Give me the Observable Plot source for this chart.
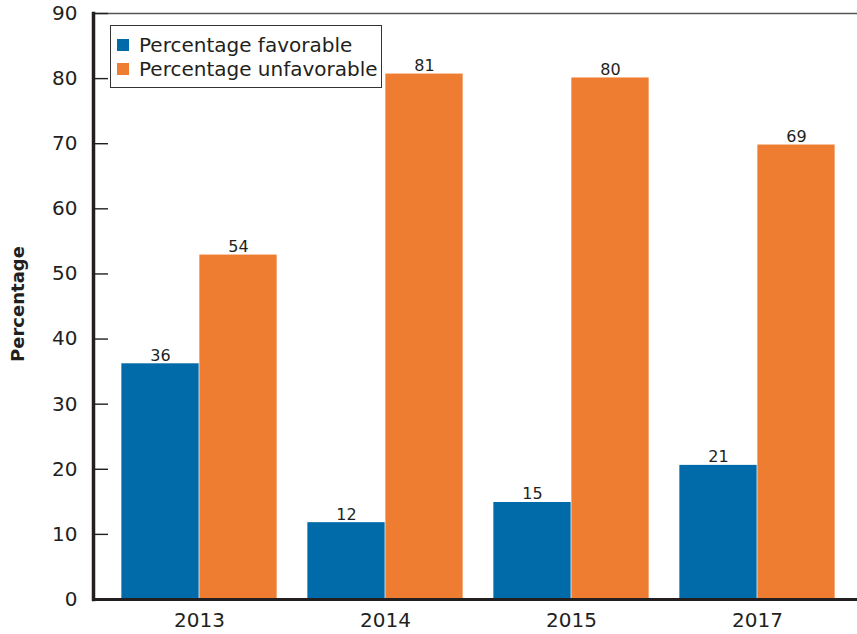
<!DOCTYPE html>
<html>
<head>
<meta charset="utf-8">
<script src="https://cdn.jsdelivr.net/npm/d3@7"></script>
<script src="https://cdn.jsdelivr.net/npm/@observablehq/plot@0.6"></script>
<style>
  html, body { margin: 0; padding: 0; background: #fff; }
  #wrap { position: relative; width: 857px; height: 634px; font-family: "DejaVu Sans", "Open Sans", sans-serif; }
  #legend { position: absolute; left: 110px; top: 25px; width: 272px; height: 63px; border: 1px solid #333; background: #fff; box-sizing: border-box; padding: 7px 0 0 6px; font-size: 20px; color: #231f20; }
  #legend .row { display: flex; align-items: center; height: 24px; line-height: 22px; }
  #legend .sw { width: 12px; height: 12px; margin-right: 10px; flex: none; }
  #ytitle { position: absolute; left: 17px; top: 304px; transform: translate(-50%, -50%) rotate(-90deg); font-weight: bold; font-size: 18px; color: #231f20; white-space: nowrap; }
</style>
</head>
<body>
<div id="wrap"></div>
<script>
const years = ["2013", "2014", "2015", "2017"];
const series = ["Percentage favorable", "Percentage unfavorable"];
const colors = ["#006ba8", "#ee7d31"];
const favorable = [36.2, 11.8, 14.9, 20.6];
const unfavorable = [52.9, 80.7, 80.1, 69.8];
const favorableLabels = ["36", "12", "15", "21"];
const unfavorableLabels = ["54", "81", "80", "69"];
const yTicks = [0, 10, 20, 30, 40, 50, 60, 70, 80, 90];

const fav = years.map((y, i) => ({year: y, value: favorable[i], label: favorableLabels[i]}));
const unf = years.map((y, i) => ({year: y, value: unfavorable[i], label: unfavorableLabels[i]}));

const W = 857, H = 634;
const mL = 93;
const half = 93.35, edge = 15.35;

const chart = Plot.plot({
  width: W, height: H,
  marginLeft: mL, marginRight: 0, marginTop: 13, marginBottom: 35,
  style: {fontFamily: "'DejaVu Sans', 'Open Sans', sans-serif", fontSize: "20px", color: "#231f20", background: "#fff"},
  x: {domain: years, padding: 0, paddingOuter: 0.046, align: 0.67, label: null},
  y: {domain: [0, 90], label: null},
  marks: [
    Plot.frame({anchor: "top", stroke: "#555", strokeWidth: 1.3}),
    Plot.barY(fav, {x: "year", y: "value", fill: colors[0], insetLeft: edge, insetRight: half}),
    Plot.barY(unf, {x: "year", y: "value", fill: colors[1], insetLeft: half, insetRight: edge}),
    Plot.text(fav, {x: "year", y: "value", text: "label", dx: -(half - edge) / 2, lineAnchor: "bottom", dy: -3, fontSize: 16, fill: "#231f20"}),
    Plot.text(unf, {x: "year", y: "value", text: "label", dx: (half - edge) / 2, lineAnchor: "bottom", dy: -3, fontSize: 16, fill: "#231f20"}),
    Plot.ruleY(yTicks, {y: d => d, stroke: "#231f20", strokeWidth: 1.4, insetRight: W - mL - 15}),
    Plot.axisY({ticks: yTicks, tickSize: 0, tickPadding: 16, fontSize: 20, fill: "#231f20", label: null}),
    Plot.axisX({tickSize: 0, tickPadding: 13, fontSize: 20, fill: "#231f20", label: null}),
    Plot.ruleY([0], {stroke: "#231f20", strokeWidth: 3}),
    Plot.frame({anchor: "left", stroke: "#231f20", strokeWidth: 3.5})
  ]
});

const wrap = document.getElementById("wrap");
wrap.appendChild(chart);

const legend = document.createElement("div");
legend.id = "legend";
series.forEach((s, i) => {
  const row = document.createElement("div");
  row.className = "row";
  const sw = document.createElement("div");
  sw.className = "sw";
  sw.style.background = colors[i];
  const t = document.createElement("span");
  t.textContent = s;
  row.appendChild(sw);
  row.appendChild(t);
  legend.appendChild(row);
});
wrap.appendChild(legend);

const yt = document.createElement("div");
yt.id = "ytitle";
yt.textContent = "Percentage";
wrap.appendChild(yt);
</script>
</body>
</html>
